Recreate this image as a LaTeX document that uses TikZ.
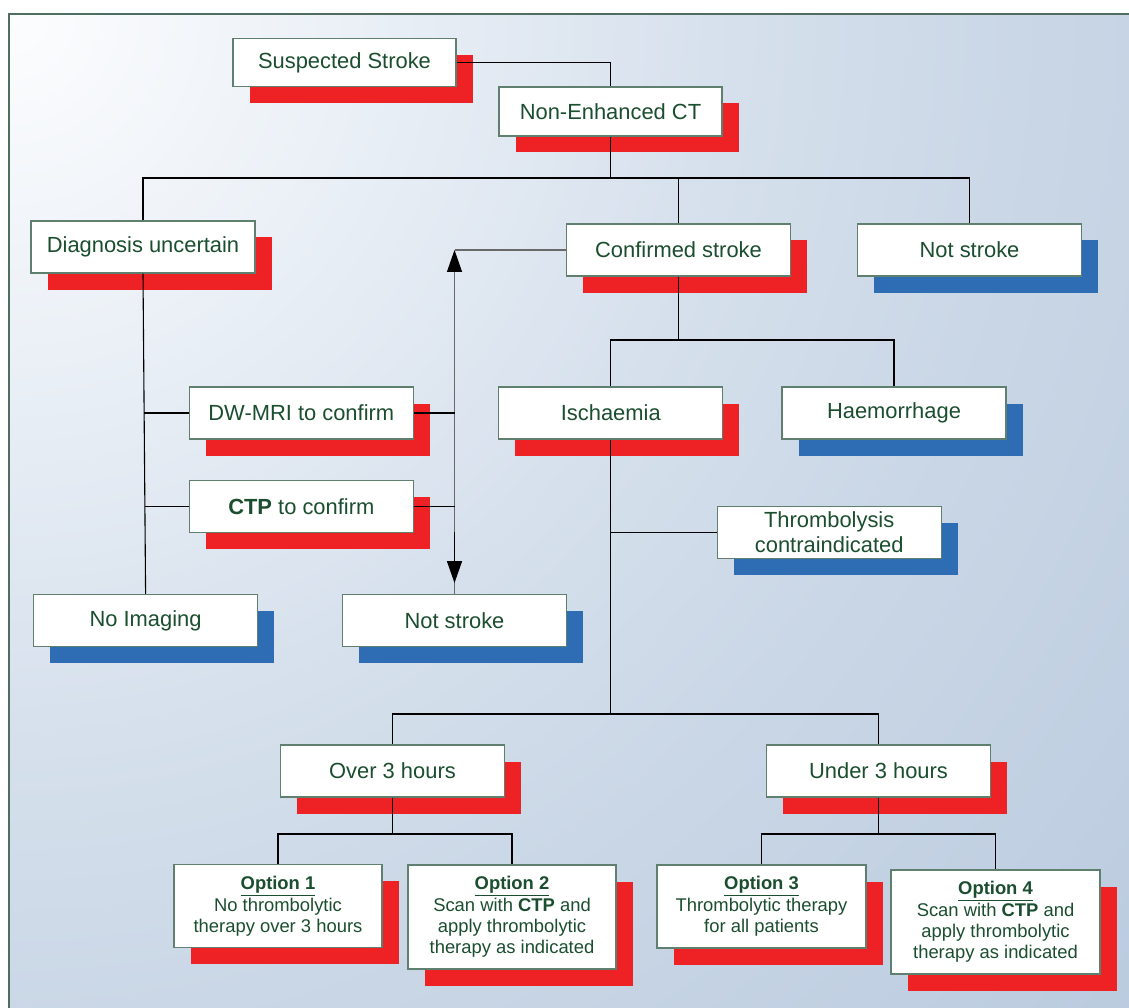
\documentclass[tikz,border=0pt]{standalone}
\usepackage{fontspec}
\setmainfont{Liberation Sans}
\usetikzlibrary{shadows,shadings,arrows.meta}
\definecolor{txtg}{RGB}{27,78,46}
\definecolor{bordg}{RGB}{95,128,110}
\definecolor{redsh}{RGB}{238,34,36}
\definecolor{bluesh}{RGB}{46,109,180}
\definecolor{framec}{RGB}{80,110,95}
\definecolor{glinec}{RGB}{105,105,105}
\definecolor{bgA}{RGB}{252,253,254}
\definecolor{bgB}{RGB}{236,241,247}
\definecolor{bgC}{RGB}{215,225,237}
\definecolor{bgD}{RGB}{202,215,230}
\definecolor{bgE}{RGB}{193,208,226}
\definecolor{bgF}{RGB}{186,202,222}
\pgfdeclareradialshading{bgrad}{\pgfpoint{0bp}{0bp}}{color(0bp)=(bgA); color(5.15bp)=(bgB); color(11.3bp)=(bgC); color(16.15bp)=(bgD); color(20.95bp)=(bgE); color(25bp)=(bgF); color(50bp)=(bgF)}
\begin{document}
\begin{tikzpicture}[x=1pt,y=-1pt,
 box/.style={draw=bordg, line width=1.3pt, fill=white, text=txtg, minimum width=224pt, minimum height=52pt, inner sep=2pt, align=center, font=\fontsize{21.9}{25}\selectfont},
 redbox/.style={box, drop shadow={shadow xshift=16.5pt, shadow yshift=-16.5pt, fill=redsh, opacity=1, draw=none}},
 bluebox/.style={box, drop shadow={shadow xshift=16.5pt, shadow yshift=-16.5pt, fill=bluesh, opacity=1, draw=none}},
 optbox/.style={redbox, minimum width=208pt, font=\fontsize{18.4}{21.3}\selectfont},
 conn/.style={draw=black, line width=1.1pt},
 gconn/.style={draw=glinec, line width=1.4pt},
 tip/.style={-{Triangle[length=22pt,width=15pt,color=black]}}
]
\useasboundingbox (0,0) rectangle (1129,1008);
\clip (0,0) rectangle (1129,1008);
\begin{scope}
\clip (9,14) rectangle (1140,1020);
\shade[shading=bgrad] (9,14) circle (1550);
\end{scope}
\draw[framec, line width=1.5pt] (9,14) rectangle (1140,1020);

% nodes
\node[redbox, minimum width=223pt, minimum height=48pt] (ss) at (344.5,62.5) {Suspected Stroke};
\node[redbox, minimum width=223pt, minimum height=49pt] (ct) at (610.5,111.5) {Non-Enhanced CT};
\node[redbox] (diag) at (143,247) {Diagnosis uncertain};
\node[redbox] (conf) at (678.5,250) {Confirmed stroke};
\node[bluebox] (ns1) at (969.5,250) {Not stroke};
\node[redbox] (dw) at (301.3,413) {DW-MRI to confirm};
\node[redbox] (isch) at (610.8,413) {Ischaemia};
\node[bluebox] (haem) at (894,413) {Haemorrhage};
\node[redbox] (ctp) at (301.3,506.7) {\textbf{CTP} to confirm};
\node[bluebox] (thr) at (829.2,532.5) {Thrombolysis\\contraindicated};
\node[bluebox] (noimg) at (145.6,620.5) {No Imaging};
\node[bluebox] (ns2) at (454.5,620.5) {Not stroke};
\node[redbox] (over) at (392.5,771) {Over 3 hours};
\node[redbox] (under) at (878.5,771) {Under 3 hours};
\node[optbox, minimum height=83pt] (o1) at (278,906.3) {\underline{\textbf{Option 1}}\\No thrombolytic\\therapy over 3 hours};
\node[optbox, minimum height=104pt] (o2) at (512,917) {\underline{\textbf{Option 2}}\\Scan with \textbf{CTP} and\\apply thrombolytic\\therapy as indicated};
\node[optbox, minimum width=209pt, minimum height=83pt] (o3) at (761.5,906.5) {\underline{\textbf{Option 3}}\\Thrombolytic therapy\\for all patients};
\node[optbox, minimum width=209pt, minimum height=104pt] (o4) at (995.5,922) {\underline{\textbf{Option 4}}\\Scan with \textbf{CTP} and\\apply thrombolytic\\therapy as indicated};

% connectors
\draw[conn] (ss.east) -| (ct.north);
\coordinate (h1L) at (143,178);
\coordinate (h1R) at (969.5,178);
\draw[conn] (diag.north) -- (h1L) -- (h1R) -- (ns1.north);
\draw[conn] (ct.south) -- (ct.south |- h1L);
\draw[conn] (conf.north) -- (conf.north |- h1L);

\coordinate (h2L) at (610.8,340);
\draw[conn] (isch.north) -- (h2L) -| (haem.north);
\draw[conn] (conf.south) -- (conf.south |- h2L);

\draw[conn] (diag.south) -- (noimg.north);
\coordinate (dwL) at (144.2,413);
\coordinate (ctpL) at (144.8,506.7);
\draw[conn] (dw.west) -- (dwL);
\draw[conn] (ctp.west) -- (ctpL);

\coordinate (ac) at (ns2.north |- conf.west);
\draw[gconn] (conf.west) -- (ac);
\draw[gconn, tip] (ns2.north) -- (ac);
\draw[conn] (dw.east) -- (dw.east -| ac);
\draw[conn] (ctp.east) -- (ctp.east -| ac);
\coordinate (ad1) at (454.5,532);
\coordinate (ad2) at (454.5,583);
\draw[conn, line width=1.6pt, tip] (ad1) -- (ad2);

\coordinate (h3L) at (392.5,714);
\coordinate (h3R) at (878.5,714);
\draw[conn] (isch.south) -- (isch.south |- h3L);
\draw[conn] (isch.south |- thr.west) -- (thr.west);
\draw[conn] (over.north) -- (h3L) -- (h3R) -- (under.north);

\coordinate (h4L) at (278,834);
\draw[conn] (o1.north) -- (h4L) -| (o2.north);
\draw[conn] (over.south) -- (over.south |- h4L);
\coordinate (h5L) at (761.5,834);
\draw[conn] (o3.north) -- (h5L) -| (o4.north);
\draw[conn] (under.south) -- (under.south |- h5L);
\end{tikzpicture}
\end{document}
